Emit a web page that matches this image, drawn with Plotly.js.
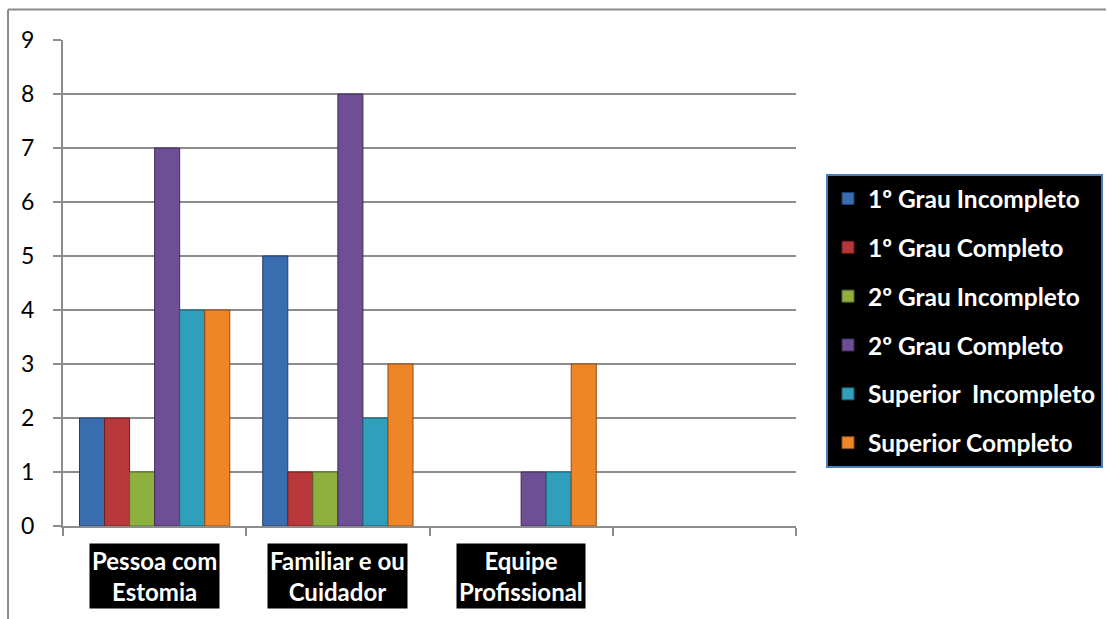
<!DOCTYPE html>
<html>
<head>
<meta charset="utf-8">
<script src="https://cdn.plot.ly/plotly-3.0.1.min.js"></script>
<style>
  html, body { margin: 0; padding: 0; background: #ffffff; }
  #chart { width: 1107px; height: 619px; }
</style>
</head>
<body>
<div id="chart"></div>
<script>
// ---- data ----
const categories = ["Pessoa com Estomia", "Familiar e ou Cuidador", "Equipe Profissional", " "];
const categoryLabels = ["Pessoa com<br>Estomia", "Familiar e ou<br>Cuidador", "Equipe<br>Profissional"];

const seriesNames = [
  "1º Grau Incompleto",
  "1º Grau Completo",
  "2º Grau Incompleto",
  "2º Grau Completo",
  "Superior  Incompleto",
  "Superior Completo"
];

const grau1Incompleto     = [2, 5, null, null];
const grau1Completo       = [2, 1, null, null];
const grau2Incompleto     = [1, 1, null, null];
const grau2Completo       = [7, 8, 1, null];
const superiorIncompleto  = [4, 2, 1, null];
const superiorCompleto    = [4, 3, 3, null];

const seriesValues = [grau1Incompleto, grau1Completo, grau2Incompleto, grau2Completo, superiorIncompleto, superiorCompleto];

const yTicks = [0, 1, 2, 3, 4, 5, 6, 7, 8, 9];

// ---- styles ----
const fillColors = ["#3a6cb0", "#b8373a", "#8db03e", "#6e4f95", "#2f9fbb", "#ee8526"];
const edgeColors = ["#1f3f6e", "#6e1e20", "#53692a", "#3f2c57", "#1b5f70", "#8f4d14"];
const gray = "#8c8c8c";
const fontFamily = "Lato, 'Open Sans', sans-serif";

const traces = seriesNames.map((name, i) => ({
  type: "bar",
  name: name,
  x: categories,
  y: seriesValues[i],
  legendgroup: "g" + i,
  marker: { color: fillColors[i], line: { color: edgeColors[i], width: 1 } },
  hoverinfo: "x+y+name"
}));

const annotations = categoryLabels.map((t, i) => ({
  x: categories[i], xref: "x",
  y: -0.035, yref: "paper",
  yanchor: "top", xanchor: "center",
  text: t,
  showarrow: false,
  bgcolor: "#000000",
  borderpad: 2,
  font: { family: fontFamily, size: 24, color: "#ffffff", weight: "bold" }
}));

const layout = {
  width: 1107, height: 619,
  margin: { l: 63, r: 311, t: 40, b: 93, autoexpand: false },
  paper_bgcolor: "#ffffff",
  plot_bgcolor: "#ffffff",
  barmode: "group",
  bargap: 0.18,
  bargroupgap: 0,
  showlegend: true,
  xaxis: {
    type: "category",
    categoryorder: "array",
    categoryarray: categories,
    range: [-0.5, 3.5],
    showticklabels: false,
    showline: true, linecolor: gray, linewidth: 2,
    ticks: "outside", tickson: "boundaries", ticklen: 8, tickcolor: gray, tickwidth: 2,
    showgrid: false, zeroline: false, fixedrange: true
  },
  yaxis: {
    range: [0, 9],
    tickvals: yTicks,
    ticktext: yTicks.map(String),
    showline: true, linecolor: gray, linewidth: 2,
    ticks: "outside", ticklen: 8, tickcolor: gray, tickwidth: 2,
    ticklabelstandoff: 14,
    showgrid: true, gridcolor: gray, gridwidth: 2,
    zeroline: false,
    tickfont: { family: fontFamily, size: 23, color: "#000000" },
    fixedrange: true
  },
  legend: {
    xref: "container", yref: "container",
    x: 826 / 1107, xanchor: "left",
    y: 1 - 174 / 619, yanchor: "top",
    bgcolor: "#000000",
    bordercolor: "#4a7ebb", borderwidth: 2,
    traceorder: "grouped",
    tracegroupgap: 14,
    font: { family: fontFamily, size: 24.5, color: "#ffffff", weight: "bold" }
  },
  annotations: annotations,
  shapes: [
    { type: "line", xref: "paper", yref: "paper", x0: -0.075, x1: -0.075, y0: -0.2, y1: 1.0628, line: { color: gray, width: 2 } },
    { type: "line", xref: "paper", yref: "paper", x0: -0.075, x1: 1.4229, y0: 1.0628, y1: 1.0628, line: { color: gray, width: 2 } }
  ]
};

Plotly.newPlot("chart", traces, layout, { displayModeBar: false });
</script>
</body>
</html>
